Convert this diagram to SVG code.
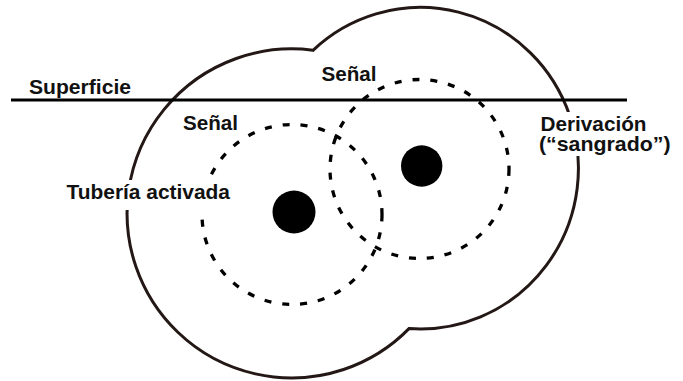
<svg xmlns="http://www.w3.org/2000/svg" width="683" height="381" viewBox="0 0 683 381">
<style>
.lbl{font-family:"Liberation Sans",Arial,sans-serif;font-weight:bold;font-size:20.5px;fill:#111}
.zone{fill:none;stroke:#000;stroke-width:3.3;stroke-dasharray:7 11}
.dot{fill:#000}
.bg{fill:#fff}
</style>
<rect width="683" height="381" fill="#fff"/>
<g id="outline">
<path d="M 313,50.3 A 158 160.8 0 1 1 409,328.6 A 164.5 164.5 0 1 1 313,50.3 Z" fill="none" stroke="#231815" stroke-width="3"/>
</g>
<g id="surface">
<line x1="11" y1="100" x2="627" y2="100" stroke="#000" stroke-width="2.8"/>
<text class="lbl" x="29" y="94.3" textLength="102" lengthAdjust="spacingAndGlyphs">Superficie</text>
</g>
<g id="connectors">
<circle id="signal-left" class="zone" cx="292" cy="214.5" r="90"/>
<circle id="signal-right" class="zone" cx="419.5" cy="169" r="89.5"/>
</g>
<g id="pipe-left"><circle class="dot" cx="294" cy="212" r="21.5"/></g>
<g id="pipe-right"><circle class="dot" cx="421.7" cy="166" r="20.7"/></g>
<g id="label-signal-top"><text class="lbl" x="321.5" y="80.7" textLength="55" lengthAdjust="spacingAndGlyphs">Señal</text></g>
<g id="label-signal-left"><text class="lbl" x="183" y="129.5" textLength="55" lengthAdjust="spacingAndGlyphs">Señal</text></g>
<g id="label-pipe">
<rect class="bg" x="64" y="180" width="170" height="30"/>
<text class="lbl" x="66.5" y="199" textLength="163.5" lengthAdjust="spacingAndGlyphs">Tubería activada</text>
</g>
<g id="label-bleed">
<rect class="bg" x="537" y="112" width="138" height="44"/>
<text class="lbl" x="540.5" y="130.5" textLength="106" lengthAdjust="spacingAndGlyphs">Derivación</text>
<text class="lbl" x="539" y="150.5" textLength="131.5" lengthAdjust="spacingAndGlyphs">(“sangrado”)</text>
</g>
</svg>
